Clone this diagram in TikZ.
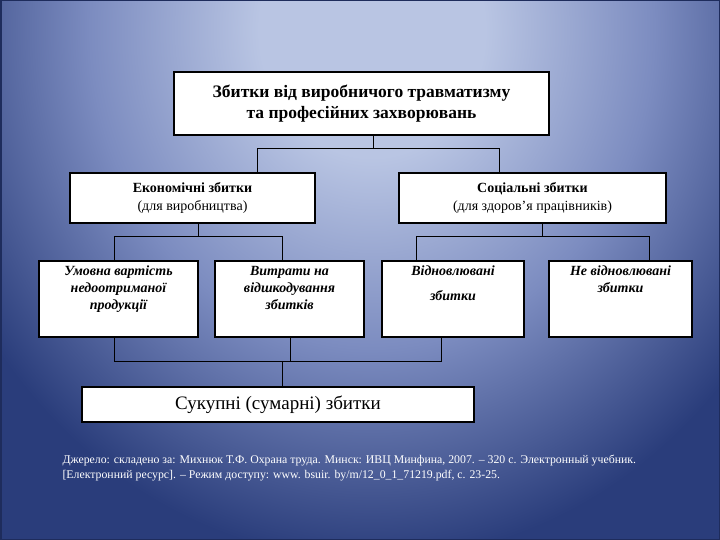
\documentclass[tikz,border=0pt]{standalone}
\usepackage{fontspec}
\setmainfont{Liberation Serif}
\usetikzlibrary{calc}

\definecolor{bglight}{HTML}{B9C5E3}
\definecolor{bgmid}{HTML}{7C8CC0}
\definecolor{bgdark}{HTML}{2A3D7B}
\definecolor{bgframe}{HTML}{1E2C5C}
\pgfdeclareradialshading{bgglow}{\pgfpoint{0bp}{0bp}}{color(0bp)=(bglight); color(6bp)=(bglight); color(15bp)=(bgmid); color(25bp)=(bgdark); color(50bp)=(bgdark)}

\begin{document}
\begin{tikzpicture}[x = 1pt, y = -1pt, line width = 1pt,
                        box/.style = {draw, fill = white, inner sep = 0pt, line width = 1.2pt},
                        link/.style = {draw, line width = 0.9pt},
                        midtext/.style = {align = center, font = \fontsize{14}{18}\selectfont},
                        lowtext/.style = {anchor = north, inner sep = 0pt, align = center, font = \fontsize{14}{17}\selectfont\bfseries\itshape}]
        % background
        \fill [bgdark] (0,0) rectangle (720,540);
        \begin{scope}
            \clip (0,0) rectangle (720,540);
            \shade [shading = bgglow] (372,30) ellipse (470 and 530);
        \end{scope}
        \draw [bgframe, line width = 1.5pt] (0.75,0.75) rectangle (719.25,539.25);
        \useasboundingbox (0,0) rectangle (720,540);

        \node [box, minimum width = 375pt, minimum height = 63pt, align = center, font = \fontsize{17.5}{19}\selectfont\bfseries] (Z0) at (361.5,103.5) {\raisebox{3pt}{\shortstack{Збитки від виробничого травматизму\\[2pt]та професійних захворювань}}};
        \node [box, minimum width = 245pt, minimum height = 50pt, midtext] (E1) at (192.5,198) {\textbf{Економічні збитки}\\(для виробництва)};
        \node [box, minimum width = 267pt, minimum height = 50pt, midtext] (S1) at (532.5,198) {\textbf{Соціальні збитки}\\(для здоров’я працівників)};
        \node [box, minimum width = 159pt, minimum height = 76pt] (E21) at (118.5,299) {};
        \node [box, minimum width = 149pt, minimum height = 76pt] (E22) at (289.5,299) {};
        \node [box, minimum width = 142pt, minimum height = 76pt] (S21) at (453,299) {};
        \node [box, minimum width = 143pt, minimum height = 76pt] (S22) at (620.5,299) {};
        \node [lowtext] (E21t) at ($(E21.north)+(0,5)$) {Умовна вартість\\недоотриманої\\продукції};
        \node [lowtext] (E22t) at ($(E22.north)+(0,5)$) {Витрати на\\відшкодування\\збитків};
        \node [lowtext, font = \fontsize{14}{25}\selectfont\bfseries\itshape] (S21t) at ($(S21.north)+(0,5)$) {Відновлювані\\збитки};
        \node [lowtext] (S22t) at ($(S22.north)+(0,5)$) {Не відновлювані\\збитки};
        \node [box, minimum width = 392pt, minimum height = 35pt, font = \fontsize{19}{22}\selectfont] (Sum) at (278,404.5) {Сукупні (сумарні) збитки};

        \node [anchor = west, text = white, align = left, inner sep = 0pt, font = \fontsize{11.8}{15}\selectfont] (Src) at (62,468.5) {Джерело: складено за: Михнюк Т.Ф. Охрана труда. Минск: ИВЦ Минфина, 2007. – 320 с. Электронный учебник.\\{[}Електронний ресурс]. – Режим доступу: www. bsuir. by/m/12\_0\_1\_71219.pdf, с. 23-25.};

        % junction points
        \coordinate (J0) at (373,148);
        \coordinate (Ea) at (257,148);
        \coordinate (Sa) at (499,148);
        \coordinate (Eb) at (198,236);
        \coordinate (Eb1) at (114,236);
        \coordinate (Eb2) at (282,236);
        \coordinate (Sb) at (542,236);
        \coordinate (Sb1) at (416,236);
        \coordinate (Sb2) at (649,236);
        \coordinate (Ub1) at (114,361);
        \coordinate (Ub2) at (290,361);
        \coordinate (Ub3) at (441,361);
        \coordinate (Uc) at (282,361);

        \draw [link] (J0 |- Z0.south) -- (J0);
        \draw [link] (Ea |- E1.north) -- (Ea) -- (Sa) -- (Sa |- S1.north);
        \draw [link] (Eb |- E1.south) -- (Eb);
        \draw [link] (Eb1 |- E21.north) -- (Eb1) -- (Eb2) -- (Eb2 |- E22.north);
        \draw [link] (Sb |- S1.south) -- (Sb);
        \draw [link] (Sb1 |- S21.north) -- (Sb1) -- (Sb2) -- (Sb2 |- S22.north);
        \draw [link] (Ub1 |- E21.south) -- (Ub1) -- (Ub3) -- (Ub3 |- S21.south);
        \draw [link] (Ub2 |- E22.south) -- (Ub2);
        \draw [link] (Uc) -- (Uc |- Sum.north);
\end{tikzpicture}
\end{document}
